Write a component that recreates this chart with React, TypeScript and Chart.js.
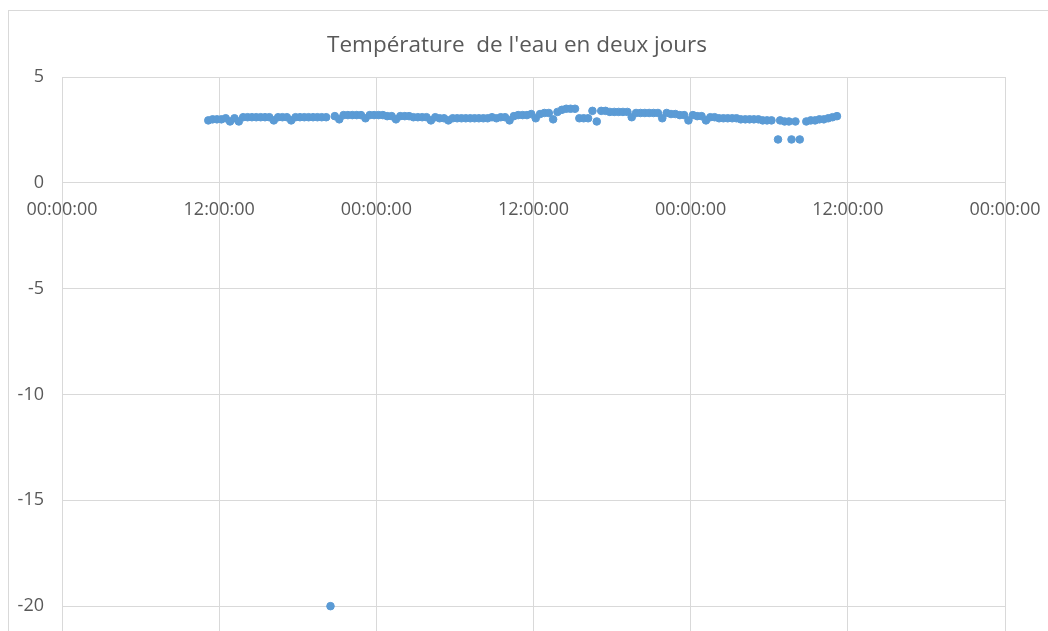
import { useEffect, useRef } from "react";
import { Chart, registerables } from "chart.js";

Chart.register(...registerables);

const chartTitle = "Température  de l'eau en deux jours";
const xTickLabels = ["00:00:00", "12:00:00", "00:00:00", "12:00:00", "00:00:00", "12:00:00", "00:00:00"];
const xMin = 0;
const xMax = 72;
const xStep = 12;
const yMin = -25;
const yMax = 5;
const yStep = 5;

// time of each reading, in hours since the first midnight
const hours: number[] = [
  11.17, 11.5, 11.83,
  12.17, 12.5, 12.83,
  13.17, 13.5, 13.83,
  14.17, 14.5, 14.83,
  15.17, 15.5, 15.83,
  16.17, 16.5, 16.83,
  17.17, 17.5, 17.83,
  18.17, 18.5, 18.83,
  19.17, 19.5, 19.83,
  20.17, 20.5, 20.83,
  21.17, 21.5, 21.83,
  22.17, 22.5, 22.83,
  23.17, 23.5, 23.83,
  24.17, 24.5, 24.83,
  25.17, 25.5, 25.83,
  26.17, 26.5, 26.83,
  27.17, 27.5, 27.83,
  28.17, 28.5, 28.83,
  29.17, 29.5, 29.83,
  30.17, 30.5, 30.83,
  31.17, 31.5, 31.83,
  32.17, 32.5, 32.83,
  33.17, 33.5, 33.83,
  34.17, 34.5, 34.83,
  35.17, 35.5, 35.83,
  36.17, 36.5, 36.83,
  37.17, 37.5, 37.83,
  38.17, 38.5, 38.83,
  39.17, 39.5, 39.83,
  40.17, 40.5, 40.83,
  41.17, 41.5, 41.83,
  42.17, 42.5, 42.83,
  43.17, 43.5, 43.83,
  44.17, 44.5, 44.83,
  45.17, 45.5, 45.83,
  46.17, 46.5, 46.83,
  47.17, 47.5, 47.83,
  48.17, 48.5, 48.83,
  49.17, 49.5, 49.83,
  50.17, 50.5, 50.83,
  51.17, 51.5, 51.83,
  52.17, 52.5, 52.83,
  53.17, 53.5, 53.83,
  54.17, 54.67, 54.83,
  55.17, 55.5, 55.7,
  56.0, 56.33, 56.83,
  57.17, 57.5, 57.83,
  58.17, 58.5, 58.83,
  59.17,
];

// water temperature (°C) for each reading
const temps: number[] = [
  2.95, 3.0, 3.0,
  3.0, 3.05, 2.9,
  3.05, 2.9, 3.1,
  3.1, 3.1, 3.1,
  3.1, 3.1, 3.1,
  2.95, 3.1, 3.1,
  3.1, 2.95, 3.1,
  3.1, 3.1, 3.1,
  3.1, 3.1, 3.1,
  3.1, -20, 3.15,
  3.0, 3.2, 3.2,
  3.2, 3.2, 3.2,
  3.05, 3.2, 3.2,
  3.2, 3.2, 3.15,
  3.15, 3.0, 3.15,
  3.15, 3.15, 3.1,
  3.1, 3.1, 3.1,
  2.95, 3.1, 3.05,
  3.05, 2.95, 3.05,
  3.05, 3.05, 3.05,
  3.05, 3.05, 3.05,
  3.05, 3.05, 3.1,
  3.05, 3.1, 3.1,
  2.95, 3.15, 3.2,
  3.2, 3.2, 3.25,
  3.05, 3.25, 3.3,
  3.3, 3.0, 3.35,
  3.45, 3.5, 3.5,
  3.5, 3.05, 3.05,
  3.05, 3.4, 2.9,
  3.4, 3.4, 3.35,
  3.35, 3.35, 3.35,
  3.35, 3.1, 3.3,
  3.3, 3.3, 3.3,
  3.3, 3.3, 3.05,
  3.3, 3.25, 3.25,
  3.2, 3.2, 2.95,
  3.2, 3.15, 3.15,
  2.95, 3.1, 3.1,
  3.05, 3.05, 3.05,
  3.05, 3.05, 3.0,
  3.0, 3.0, 3.0,
  3.0, 2.95, 2.95,
  2.95, 2.05, 2.95,
  2.9, 2.9, 2.05,
  2.9, 2.05, 2.9,
  2.95, 2.95, 3.0,
  3.0, 3.05, 3.1,
  3.15,
];

const TEXT = "#595959";
const GRID = "#d9d9d9";
const MARK = "#5b9bd5";
const FONT = "'Open Sans', 'DejaVu Sans', sans-serif";

export default function App() {
  const ref = useRef<HTMLCanvasElement | null>(null);

  useEffect(() => {
    if (!ref.current) return;
    const points = hours.map((h, i) => ({ x: h, y: temps[i] }));
    const chart = new Chart(ref.current, {
      type: "scatter",
      data: {
        datasets: [
          {
            label: "Température",
            data: points,
            backgroundColor: MARK,
            borderColor: MARK,
            borderWidth: 1,
            pointRadius: 3.8,
            pointHoverRadius: 3.8,
            showLine: false,
          },
        ],
      },
      options: {
        animation: false,
        responsive: false,
        events: [],
        layout: { padding: { left: 0, right: 22, top: 0, bottom: 10 } },
        plugins: {
          legend: { display: false },
          tooltip: { enabled: false },
          title: {
            display: true,
            text: chartTitle,
            color: TEXT,
            font: { family: FONT, size: 22.5, weight: "normal" },
            padding: { top: 22.5, bottom: 17.5 },
          },
        },
        scales: {
          x: {
            type: "linear",
            position: { y: 0 },
            min: xMin,
            max: xMax,
            afterFit: (scale: any) => {
              scale.paddingLeft = 0;
              scale.paddingRight = 0;
            },
            ticks: {
              stepSize: xStep,
              color: TEXT,
              font: { family: FONT, size: 18 },
              padding: 16,
              maxRotation: 0,
              autoSkip: false,
              callback: (v: any) => xTickLabels[Math.round(Number(v) / xStep)] ?? "",
            },
            grid: { color: GRID, lineWidth: 1, drawTicks: false },
            border: { display: true, color: GRID, width: 1 },
          },
          y: {
            type: "linear",
            position: "left",
            min: yMin,
            max: yMax,
            afterFit: (scale: any) => {
              scale.width = 54;
              scale.paddingTop = 0;
              scale.paddingBottom = 0;
            },
            ticks: {
              stepSize: yStep,
              color: TEXT,
              font: { family: FONT, size: 18 },
              padding: 18,
            },
            grid: { color: GRID, lineWidth: 1, drawTicks: false },
            border: { display: true, color: GRID, width: 1 },
          },
          spacer: {
            type: "linear",
            position: "right",
            display: true,
            afterFit: (scale: any) => {
              scale.width = 21;
              scale.paddingTop = 0;
              scale.paddingBottom = 0;
            },
            ticks: { display: false },
            grid: { display: false, drawTicks: false },
            border: { display: false },
          },
        },
      },
    });
    return () => chart.destroy();
  }, []);

  return (
    <div
      style={{
        position: "fixed",
        left: 0,
        top: 0,
        width: 1048,
        height: 631,
        overflow: "hidden",
        background: "#ffffff",
      }}
    >
      <div
        style={{
          position: "absolute",
          left: 8,
          top: 10,
          width: 1100,
          height: 800,
          border: "1px solid #d9d9d9",
          boxSizing: "border-box",
        }}
      />
      <canvas
        ref={ref}
        width={1040}
        height={712}
        style={{ position: "absolute", left: 8, top: 10, width: 1040, height: 712 }}
      />
    </div>
  );
}
